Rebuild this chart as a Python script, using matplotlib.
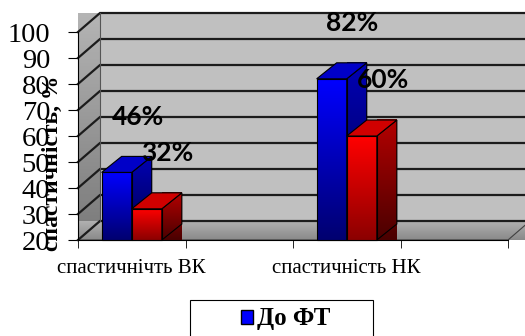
import matplotlib.pyplot as plt
import numpy as np
from matplotlib.patches import Polygon, Patch, Rectangle
from matplotlib.colors import LinearSegmentedColormap

categories = ['спастичнічть ВК', 'спастичність НК']
series_names = ['До ФТ', 'Після ФТ']
before_ft = [46, 82]
after_ft = [32, 60]
cat_pos = [0, 2]

W, H = 525, 336
fig = plt.figure(figsize=(W / 100, H / 100), dpi=100)
ax = fig.add_axes([78 / W, 96 / H, 430 / W, 208 / H])
ax.patch.set_visible(False)

# pseudo-3D depth, in data units
DX, DY = 22 / 107.5, 19 / 2.6
BDX, BDY = 20 / 107.5, 16 / 2.6


def grad_fill(verts, c_top, c_bot, z, edge='black', lw=0.8):
    poly = Polygon(verts, closed=True, facecolor='none', edgecolor=edge,
                   lw=lw, zorder=z + 0.1, clip_on=False)
    ax.add_patch(poly)
    xs = [v[0] for v in verts]
    ys = [v[1] for v in verts]
    cmap = LinearSegmentedColormap.from_list('g', [c_bot, c_top])
    grad = np.linspace(0, 1, 64).reshape(-1, 1)
    im = ax.imshow(grad, extent=[min(xs), max(xs), min(ys), max(ys)],
                   origin='lower', aspect='auto', cmap=cmap, zorder=z,
                   clip_on=False)
    im.set_clip_path(poly)


x0, x1 = -0.5, 3.5
# side wall, floor, back wall
grad_fill([(x0, 20), (x0 + DX, 20 + DY), (x0 + DX, 100 + DY), (x0, 100)],
          '#b4b4b4', '#7a7a7a', 1, edge='none')
grad_fill([(x0, 20), (x1, 20), (x1 + DX, 20 + DY), (x0 + DX, 20 + DY)],
          '#b0b0b0', '#8a8a8a', 1, edge='#404040')
ax.add_patch(Polygon([(x0 + DX, 20 + DY), (x1 + DX, 20 + DY),
                      (x1 + DX, 100 + DY), (x0 + DX, 100 + DY)],
                     facecolor='#c0c0c0', edgecolor='none', zorder=0.5,
                     clip_on=False))

for v in range(20, 101, 10):
    ax.plot([x0, x0 + DX, x1 + DX], [v, v + DY, v + DY], color='#1c1c1c',
            lw=1.6, zorder=2, clip_on=False, solid_joinstyle='miter')
ax.plot([x0 + DX, x0 + DX], [20 + DY, 100 + DY], color='#555555', lw=0.8,
        zorder=2, clip_on=False)

# bars
bw = 0.28
blue = dict(front=('#0000ff', '#000070'), side=('#0000b4', '#00004a'),
            top='#0000c8')
red = dict(front=('#ff0000', '#8c0000'), side=('#b40000', '#4a0000'),
           top='#d00000')


def bar3d(xl, h, sty, z):
    xr = xl + bw
    grad_fill([(xl, 20), (xr, 20), (xr, h), (xl, h)], *sty['front'], z)
    grad_fill([(xr, 20), (xr + BDX, 20 + BDY), (xr + BDX, h + BDY), (xr, h)],
              *sty['side'], z)
    ax.add_patch(Polygon([(xl, h), (xr, h), (xr + BDX, h + BDY),
                          (xl + BDX, h + BDY)], facecolor=sty['top'],
                         edgecolor='black', lw=0.8, zorder=z + 0.1,
                         clip_on=False))


lbl_font = dict(family='Lato', fontweight='bold', fontsize=19)
for i, p in enumerate(cat_pos):
    z = 5 + i * 2
    bar3d(p - bw, before_ft[i], blue, z)
    bar3d(p, after_ft[i], red, z + 1)
    for xc, v in [(p - bw / 2, before_ft[i]), (p + bw / 2, after_ft[i])]:
        ax.annotate(f'{v}%', xy=(xc, v), xytext=(15, 40),
                    textcoords='offset points', ha='center', va='center',
                    zorder=20, annotation_clip=False, **lbl_font)

ax.set_xlim(-0.5, 3.5)
ax.set_ylim(20, 100)

# axes
for s in ['top', 'right']:
    ax.spines[s].set_visible(False)
ax.spines['left'].set_zorder(3)
ax.spines['bottom'].set_zorder(3)
ax.set_yticks(range(20, 101, 10))
ax.set_yticklabels([str(v) for v in range(20, 101, 10)],
                   family='Liberation Serif', fontsize=20.5)
ax.tick_params(axis='y', direction='out', length=7, pad=13)
ax.set_xticks(cat_pos)
ax.set_xticklabels(categories, family='Liberation Serif', fontsize=15)
ax.tick_params(axis='x', length=0, pad=14)
ax.set_xticks(np.arange(-0.5, 3.6, 1), minor=True)
ax.tick_params(axis='x', which='minor', direction='out', length=6)

fig.text(52 / W, 1 - 163 / H, 'спастичність, %', rotation=90, ha='center',
         va='center', family='Liberation Serif', fontweight='bold',
         fontsize=17)

# legend: the second entry falls below the bottom edge
handles = [Patch(facecolor='#0000ff', edgecolor='black'),
           Patch(facecolor='#ff0000', edgecolor='black')]
fig.legend(handles, series_names, loc='upper center',
           bbox_to_anchor=(303 / W, 1 - 285 / H), frameon=False,
           prop=dict(family='Liberation Serif', weight='bold', size=18),
           handlelength=0.5, handleheight=0.5, handletextpad=0.15)
fig.patches.append(Rectangle((190 / W, -0.1), 183 / W, 0.1 + 36 / H,
                             transform=fig.transFigure, fill=False,
                             edgecolor='black', lw=0.8))

fig.savefig('out.png', dpi=100)
